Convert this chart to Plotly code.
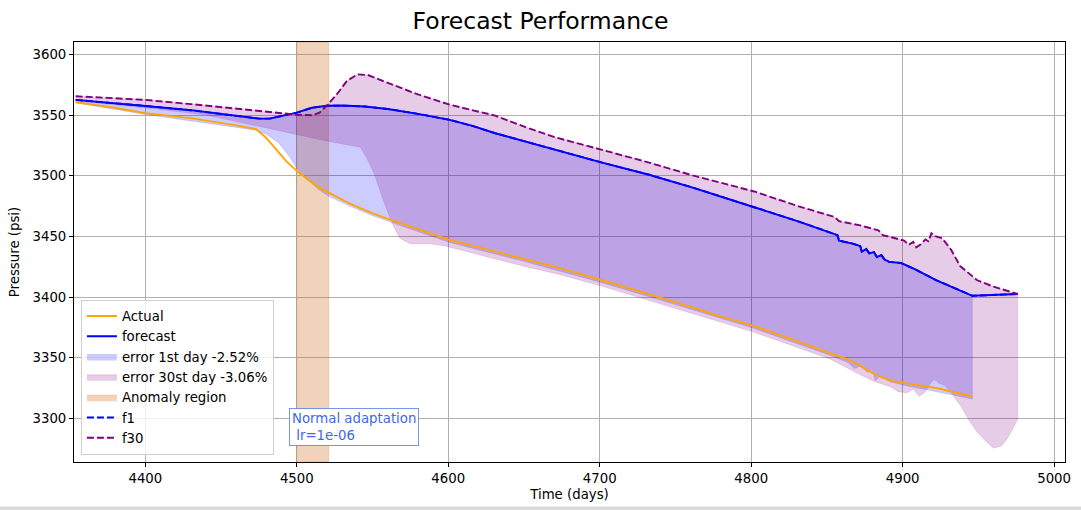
import plotly.graph_objects as go

# ---- data (time in days, pressure in psi) ----
t_actual = [4354, 4380, 4400, 4430, 4460, 4473, 4480, 4487, 4493, 4500, 4507, 4514, 4521,
            4535, 4550, 4575, 4601, 4626, 4651, 4676, 4701, 4726, 4752, 4777, 4802, 4827,
            4852, 4867, 4882, 4892, 4902, 4922, 4946]
p_actual = [3560.5, 3556, 3551.5, 3547.5, 3541.5, 3538.5, 3531, 3521, 3512, 3504, 3497, 3491, 3486,
            3477, 3469, 3458, 3447, 3439, 3431, 3423, 3414, 3405, 3395, 3385, 3376, 3365,
            3354, 3347, 3336, 3331, 3329, 3325, 3318]

t_fc = [4354, 4380, 4400, 4430, 4460, 4475, 4482, 4490, 4500, 4510, 4520, 4530, 4545, 4560,
        4580, 4601, 4616, 4631, 4651, 4671, 4701, 4732, 4762, 4802, 4832, 4857, 4858, 4867,
        4872, 4873, 4876, 4878, 4881, 4883, 4886, 4888, 4891, 4899, 4908, 4922, 4946, 4976]
p_fc = [3562.5, 3560, 3557.5, 3554, 3549.5, 3547, 3547, 3549, 3552, 3556, 3557.7, 3557.8, 3557, 3555,
        3551, 3546, 3541, 3535, 3528, 3521, 3511, 3501, 3490, 3474, 3462, 3451, 3446.5, 3444,
        3442, 3437.5, 3439.5, 3436, 3437, 3433, 3434.5, 3431, 3429, 3428, 3423, 3414, 3401, 3402.5]

t_f30 = [4354, 4380, 4400, 4430, 4460, 4475, 4490, 4500, 4510, 4515, 4520, 4527, 4533, 4540,
         4547, 4555, 4565, 4580, 4601, 4616, 4631, 4651, 4671, 4701, 4732, 4762, 4802, 4832,
         4855, 4858, 4872, 4884, 4887, 4901, 4904, 4907, 4909, 4912, 4915, 4917, 4919, 4922,
         4926, 4932, 4938, 4949, 4960, 4976]
p_f30 = [3565.5, 3564, 3562.5, 3559, 3555.5, 3553.5, 3551.5, 3550.2, 3549.8, 3552, 3558, 3568, 3578, 3583.5,
         3583, 3579, 3574, 3567, 3558.5, 3554, 3549.5, 3540, 3531.5, 3521.5, 3511, 3500, 3487, 3474.5,
         3466, 3462.5, 3459, 3455, 3451, 3446.5, 3443, 3445.5, 3441, 3443.5, 3447.5, 3446, 3452.5, 3450,
         3448.5, 3439, 3425.5, 3414, 3408.5, 3402.5]

# lower edge of the 1st-day error band
t_e1 = [4354, 4400, 4473, 4480, 4488, 4495, 4500, 4507, 4514, 4521, 4535, 4550, 4575, 4601,
        4651, 4701, 4752, 4802, 4852, 4864, 4868, 4872, 4877, 4880, 4882, 4885, 4892, 4902,
        4912, 4922, 4946]
p_e1 = [3560, 3550.5, 3537.5, 3534, 3527, 3516, 3506, 3497, 3489, 3483, 3475, 3467, 3456, 3445,
        3429, 3412, 3393, 3374, 3352, 3346, 3341, 3343, 3338, 3340, 3331, 3335, 3330, 3327,
        3324, 3322, 3316]

# lower edge of the 30th-day error band
t_e30 = [4354, 4400, 4440, 4474, 4500, 4518, 4531, 4542, 4546, 4551, 4557, 4564, 4568, 4575,
         4588, 4598, 4626, 4651, 4672, 4701, 4752, 4802, 4852, 4872, 4882, 4892, 4897, 4903,
         4907, 4911, 4915, 4919, 4921, 4924, 4928, 4932, 4939, 4944, 4949, 4955, 4960, 4965,
         4969, 4973, 4976]
p_e30 = [3561.5, 3556, 3550, 3541, 3534, 3529, 3526, 3523.5, 3515, 3502, 3480, 3458, 3448.5, 3444,
         3444, 3442, 3433, 3425, 3419, 3409, 3390, 3371, 3349, 3336, 3330, 3326, 3322, 3321,
         3324, 3318, 3322, 3330, 3332, 3329, 3327, 3321, 3309, 3298, 3289, 3281, 3275.5, 3277,
         3283, 3292, 3299.5]

anomaly_start, anomaly_end = 4500, 4521
err1_label = "error 1st day -2.52%"
err30_label = "error 30st day -3.06%"
x_range = [4352.9, 5007.2]
y_range = [3264, 3610.2]

FONT = "DejaVu Sans"
FS = 13.3
LW = 1.9
DASH = "7px,3px"

fig = go.Figure()

# shaded anomaly window (bottom layer)
fig.add_trace(go.Scatter(x=[anomaly_start, anomaly_end, anomaly_end, anomaly_start, anomaly_start],
                         y=[y_range[0], y_range[0], y_range[1], y_range[1], y_range[0]],
                         mode="lines", fill="toself", fillcolor="rgba(210,105,30,0.3)",
                         line=dict(width=1, color="rgba(210,105,30,0.25)"),
                         name="Anomaly region", legendrank=5))

# error bands as closed polygons: upper curve forward, lower curve backward
e1_end = t_e1[-1]
up_t = [t for t in t_fc if t <= e1_end]
up_p = [p for t, p in zip(t_fc, p_fc) if t <= e1_end]
fig.add_trace(go.Scatter(x=up_t + t_e1[::-1], y=up_p + p_e1[::-1], mode="lines",
                         fill="toself", fillcolor="rgba(0,0,255,0.2)",
                         line=dict(color="rgba(0,0,255,0.15)", width=0.8),
                         name=err1_label, legendrank=3))
fig.add_trace(go.Scatter(x=t_f30 + t_e30[::-1], y=p_f30 + p_e30[::-1], mode="lines",
                         fill="toself", fillcolor="rgba(128,0,128,0.2)",
                         line=dict(color="rgba(128,0,128,0.15)", width=0.8),
                         name=err30_label, legendrank=4))

# curves on top
fig.add_trace(go.Scatter(x=t_actual, y=p_actual, mode="lines", name="Actual",
                         line=dict(color="orange", width=LW), legendrank=1))
fig.add_trace(go.Scatter(x=t_fc, y=p_fc, mode="lines", name="f1",
                         line=dict(color="blue", width=LW, dash=DASH), legendrank=6))
fig.add_trace(go.Scatter(x=t_fc, y=p_fc, mode="lines", name="forecast",
                         line=dict(color="blue", width=LW), legendrank=2))
fig.add_trace(go.Scatter(x=t_f30, y=p_f30, mode="lines", name="f30",
                         line=dict(color="purple", width=LW, dash=DASH), legendrank=7))

fig.add_annotation(x=4538, y=3292.5, xref="x", yref="y",
                   text="Normal adaptation<br>\u00a0lr=1e-06", showarrow=False, align="left",
                   font=dict(family=FONT, size=FS, color="royalblue"),
                   bgcolor="white", bordercolor="rgba(65,105,225,0.7)", borderwidth=1, borderpad=2)

# thin strip at the bottom edge of the page
fig.add_shape(type="rect", xref="paper", yref="paper", x0=-0.08, x1=1.02,
              y0=-0.114, y1=-0.106, fillcolor="#d9d9d9", line=dict(width=0), layer="below")

axis_common = dict(showgrid=True, gridcolor="#b0b0b0", gridwidth=0.8, zeroline=False,
                   showline=True, linecolor="black", linewidth=1, mirror=True,
                   ticks="outside", ticklen=4, tickcolor="black",
                   tickfont=dict(family=FONT, size=FS, color="black"))

fig.update_layout(
    width=1081, height=510,
    margin=dict(l=74, r=10, t=42, b=48),
    paper_bgcolor="white", plot_bgcolor="white",
    font=dict(family=FONT, color="black"),
    title=dict(text="Forecast Performance", x=0.5, xref="container", xanchor="center",
               y=0.96, yref="container", yanchor="middle",
               font=dict(family=FONT, size=23.5, color="black")),
    xaxis=dict(range=x_range, dtick=100, tick0=4400,
               title=dict(text="Time (days)", font=dict(size=FS), standoff=4), **axis_common),
    yaxis=dict(range=y_range, dtick=50, tick0=3300,
               title=dict(text="Pressure (psi)", font=dict(size=FS), standoff=9), **axis_common),
    legend=dict(x=0.007, y=0.017, xanchor="left", yanchor="bottom",
                bgcolor="rgba(255,255,255,0.8)", bordercolor="#d0d0d0", borderwidth=1,
                font=dict(family=FONT, size=FS), itemwidth=30, tracegroupgap=0),
    showlegend=True,
)

fig.write_html("out.html")
